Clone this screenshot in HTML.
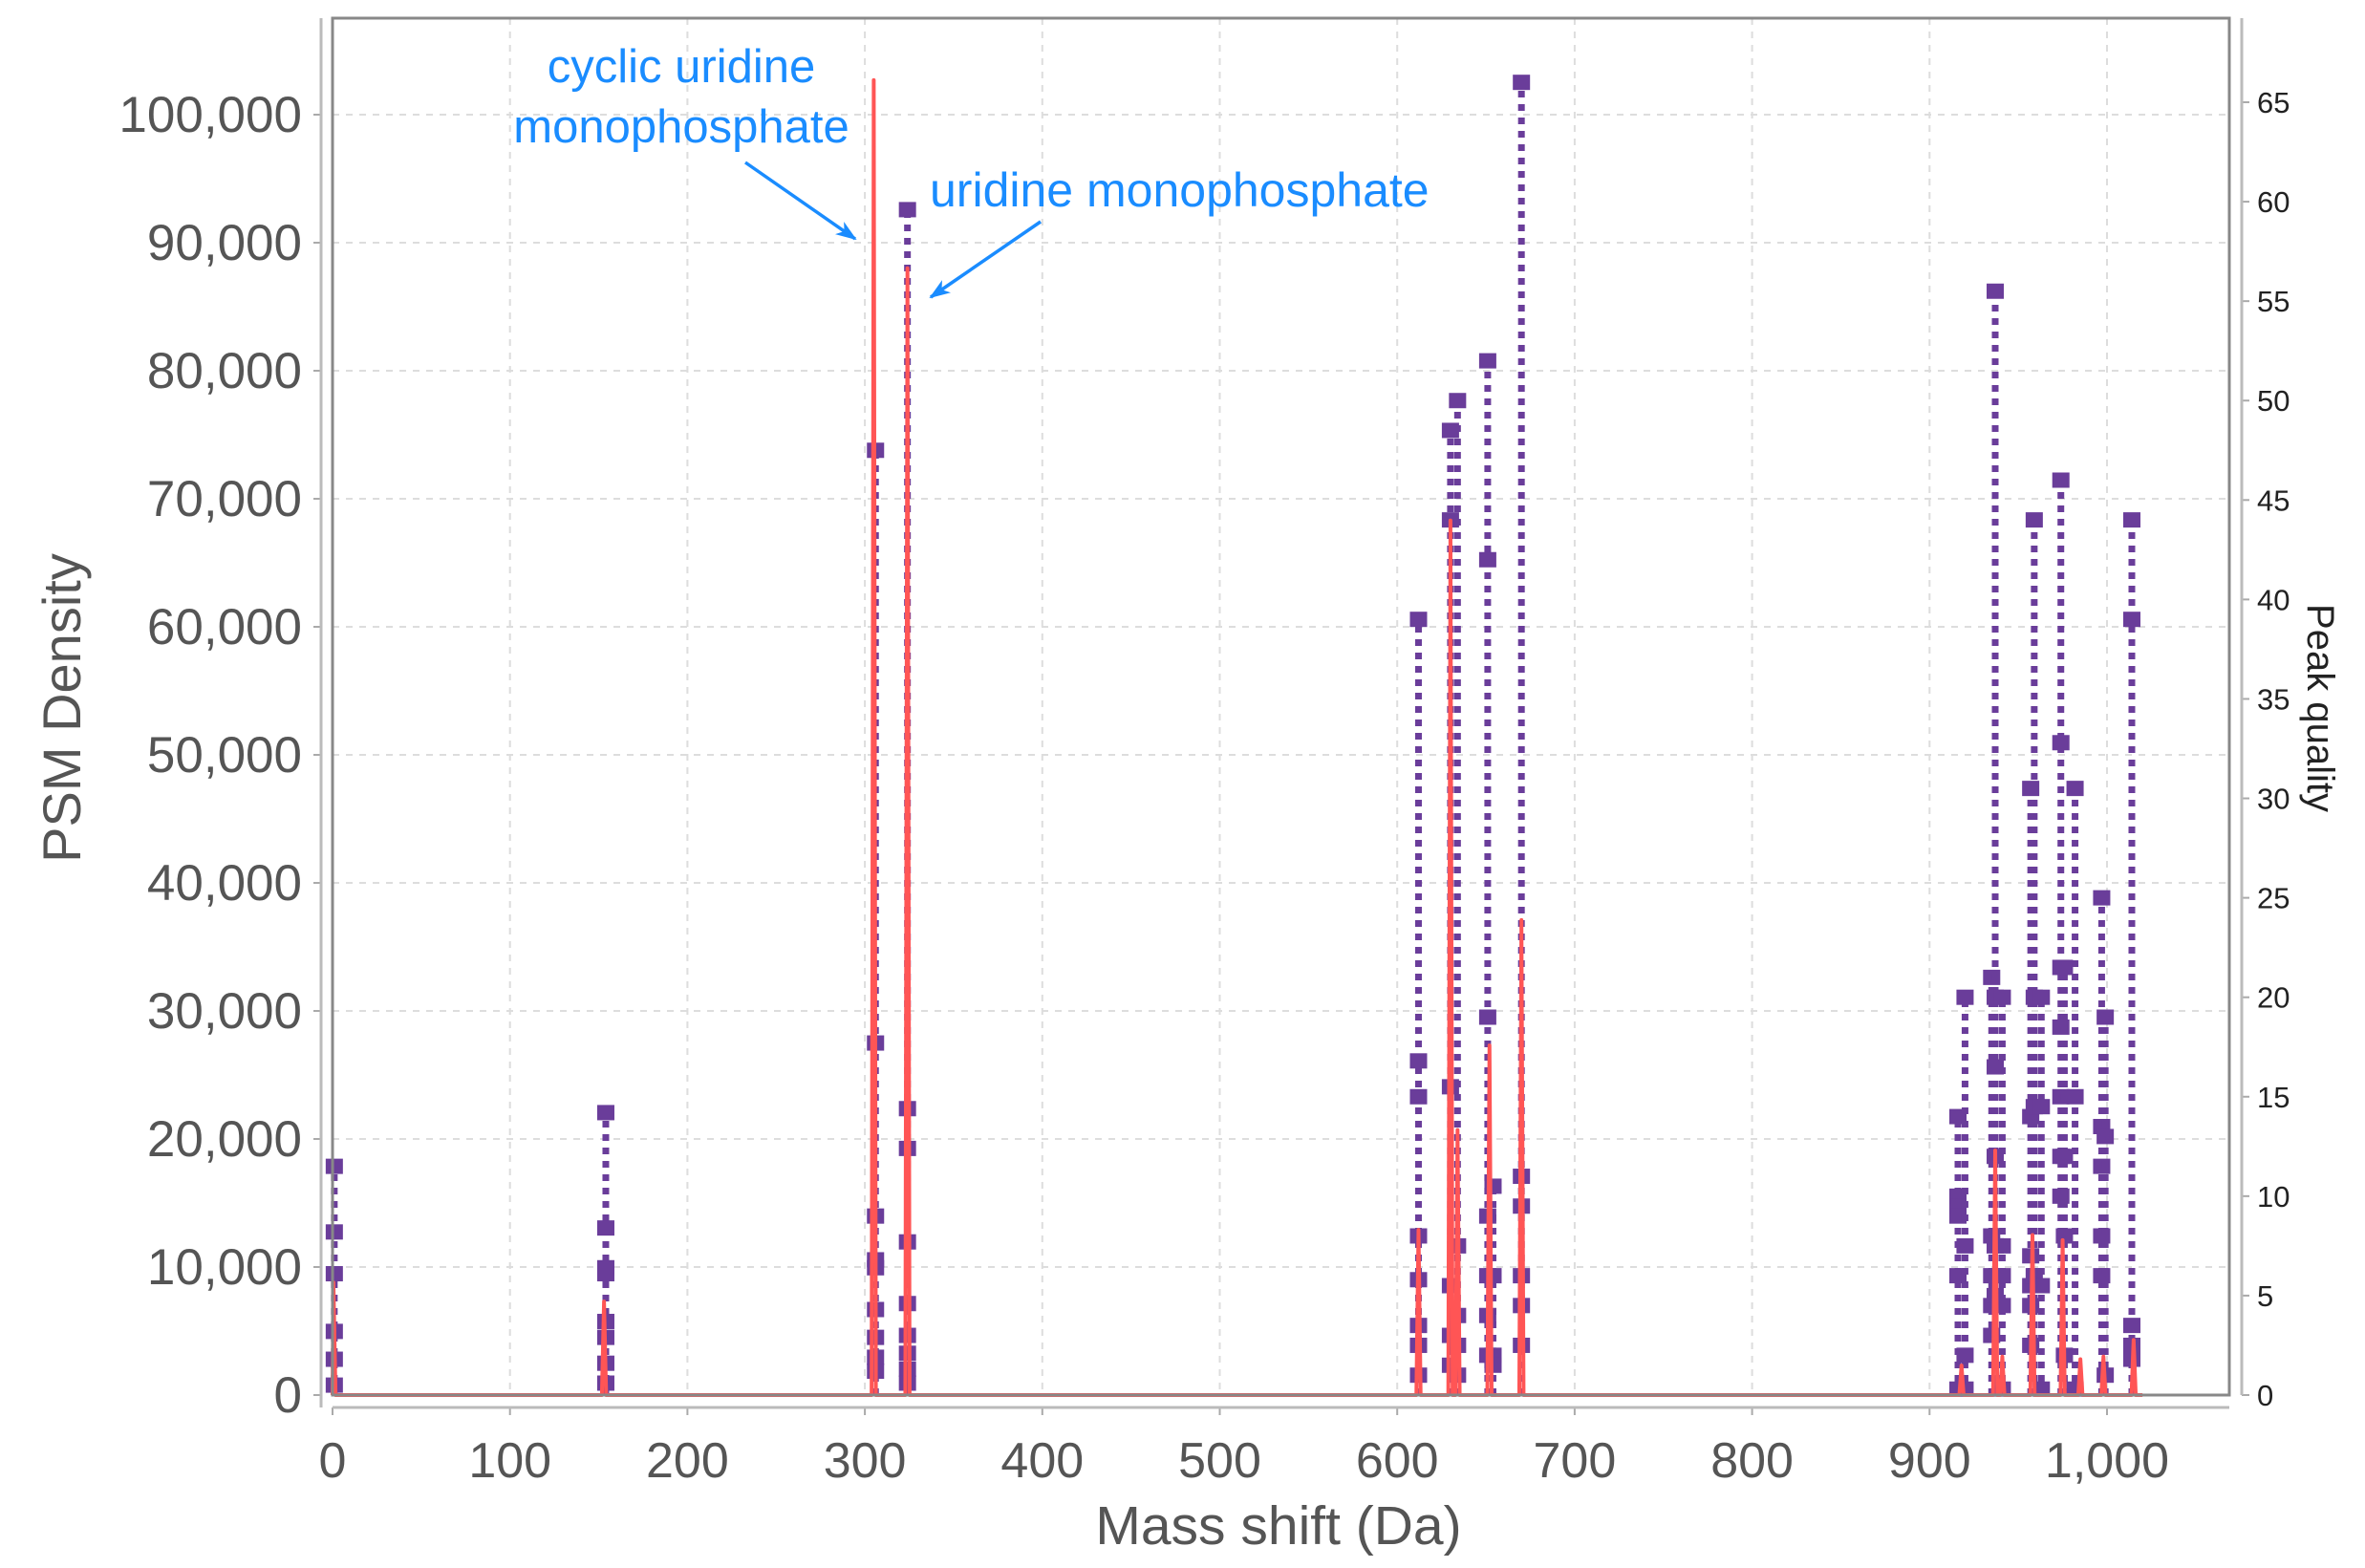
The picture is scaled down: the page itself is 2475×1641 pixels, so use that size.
<!DOCTYPE html>
<html><head><meta charset="utf-8"><style>
html,body{margin:0;padding:0;background:#fff;}
svg{display:block;font-family:"Liberation Sans",sans-serif;}
</style></head><body>
<svg id="chart" width="2475" height="1641" viewBox="0 0 2475 1641" xmlns="http://www.w3.org/2000/svg">
<defs><marker id="ah" markerWidth="22" markerHeight="16" refX="20" refY="8" orient="auto" markerUnits="userSpaceOnUse"><path d="M0,0 L22,8 L0,16 L6,8 z" fill="#1a8cff"/></marker></defs>
<g id="grid"></g>
<g id="series"></g>
<g id="axes"></g>
<text x="0" y="0" transform="translate(84,741) rotate(-90)" text-anchor="middle" font-size="56" fill="#555">PSM Density</text>
<text x="0" y="0" transform="translate(2415,741) rotate(90)" text-anchor="middle" font-size="40" fill="#222">Peak quality</text>
<text x="1338" y="1616" text-anchor="middle" font-size="57" fill="#555">Mass shift (Da)</text>
<g>
<text x="713" y="86" text-anchor="middle" font-size="49" fill="#1a8cff">cyclic uridine</text>
<text x="713" y="149" text-anchor="middle" font-size="49" fill="#1a8cff">monophosphate</text>
<line x1="780" y1="170" x2="895" y2="250" stroke="#1a8cff" stroke-width="3.5" marker-end="url(#ah)"/>
</g>
<g>
<text x="973" y="216" font-size="50" fill="#1a8cff">uridine monophosphate</text>
<line x1="1089" y1="232" x2="974" y2="311" stroke="#1a8cff" stroke-width="3.5" marker-end="url(#ah)"/>
</g>
</svg>
<script>
const xTicks=[0,100,200,300,400,500,600,700,800,900,1000];
const xTickLabels=["0","100","200","300","400","500","600","700","800","900","1,000"];
const yTicks=[0,10000,20000,30000,40000,50000,60000,70000,80000,90000,100000];
const yTickLabels=["0","10,000","20,000","30,000","40,000","50,000","60,000","70,000","80,000","90,000","100,000"];
const y2Ticks=[0,5,10,15,20,25,30,35,40,45,50,55,60,65];
const densityPeakMass=[0.5,153,305,324,612,630,634,652,670,918,937,941,958,975,985,998,1015];
const densityPeakValue=[8800,7300,102700,88000,12900,68300,20700,27300,37100,2300,19100,3000,12500,12100,2800,3000,4300];
const qualityMass=[1,154,306,324,612,630,634,651,654,670,916,920,935,937,941,957,959,963,974,976,982,997,999,1014];
const qualityValues=[
[11.5,8.2,6.1,3.2,1.8,0.5],
[14.2,8.4,6.4,6.1,3.7,2.9,1.6,0.6],
[47.5,17.7,9,6.8,6.4,4.3,2.9,1.9,1.2],
[59.6,14.4,12.4,7.7,4.6,3,2.1,1.3,0.6],
[39,16.8,15,8,5.8,3.5,2.5,1],
[48.5,44,15.5,5.5,3,1.5],
[50,7.5,4,2.5,1],
[52,42,19,9,6,4,2],
[10.5,6,2,1.5],
[66,11,9.5,6,4.5,2.5],
[14,10,9.5,9,6,0.3],
[20,7.5,2,0.3],
[21,8,6,4.5,3],
[55.5,20,16.5,12,7.5,5],
[20,7.5,6,4.5,0.3],
[30.5,14,7,5.5,4.5,2.5],
[44,20,14.5,6],
[20,14.5,5.5,0.3],
[46,32.8,21.5,18.5,15,12,10],
[21.5,12,8,2],
[30.5,15,0.3],
[25,13.5,11.5,8,6],
[19,13,1],
[44,39,3.5,2.5,1.8]
];
const L=348,R=2333,T=19,B=1460;
const X=v=>348+v*(2205-348)/1000;
const Y=v=>1460-v*(1460-120)/100000;
const Y2=v=>1460-v*(1460-107)/65;
const NS="http://www.w3.org/2000/svg";
function mk(parent,tag,attrs){const e=document.createElementNS(NS,tag);for(const k in attrs)e.setAttribute(k,attrs[k]);parent.appendChild(e);return e;}
const grid=document.getElementById('grid'),axes=document.getElementById('axes'),series=document.getElementById('series');
mk(grid,'rect',{x:L,y:T,width:R-L,height:B-T,fill:'#fff'});
xTicks.forEach((t,i)=>{
 const g=mk(grid,'line',{x1:X(t),x2:X(t),y1:T,y2:B,stroke:'#ddd','stroke-width':2,'stroke-dasharray':'7,7'});
 
 
 const tk=mk(axes,'line',{x1:X(t),x2:X(t),y1:1473,y2:1481,stroke:'#aaa','stroke-width':2});
 
 
 const tx=mk(axes,'text',{x:X(t),y:1546,'text-anchor':'middle','font-size':52,fill:'#555'});
 tx.textContent=xTickLabels[i];
 
 
});
yTicks.forEach((t,i)=>{
 const g=mk(grid,'line',{x1:L,x2:R,y1:Y(t),y2:Y(t),stroke:'#ddd','stroke-width':2,'stroke-dasharray':'7,7'});
 
 
 const tk=mk(axes,'line',{x1:328,x2:336,y1:Y(t),y2:Y(t),stroke:'#aaa','stroke-width':2});
 
 
 const tx=mk(axes,'text',{x:316,y:Y(t)+18,'text-anchor':'end','font-size':53,fill:'#555'});
 tx.textContent=yTickLabels[i];
 
 
});
y2Ticks.forEach(t=>{
 const tk=mk(axes,'line',{x1:2346,x2:2354,y1:Y2(t),y2:Y2(t),stroke:'#aaa','stroke-width':2});
 
 
 const tx=mk(axes,'text',{x:2362,y:Y2(t)+11,'font-size':31,fill:'#222'});
 tx.textContent=String(t);
 
 
});
qualityMass.forEach((m,i)=>{
 const vals=qualityValues[i];const mx=Math.max(...vals);
 const st=mk(series,'line',{x1:X(m),x2:X(m),y1:Y2(0),y2:Y2(mx),stroke:'#6a3d9a','stroke-width':7,'stroke-dasharray':'7,7'});
 
 
 vals.forEach(v=>{
  const r=mk(series,'rect',{x:X(m)-9,y:Y2(v)-8,width:18,height:16,fill:'#6a3d9a'});
  
  
 });
});
let d='M'+X(0)+','+Y(0);
densityPeakMass.forEach((m,i)=>{
 d+=' L'+X(Math.max(0,m-1.2))+','+Y(0)+' L'+X(m)+','+Y(densityPeakValue[i])+' L'+X(m+1.2)+','+Y(0);
});
d+=' L'+X(1020)+','+Y(0);
const p=mk(series,'path',{d:d,fill:'none',stroke:'#ff5555','stroke-width':4,'stroke-linejoin':'round'});


const fr=mk(axes,'rect',{x:L,y:T,width:R-L,height:B-T,fill:'none',stroke:'#888','stroke-width':3});


const la=mk(axes,'line',{x1:336,x2:336,y1:T,y2:1473,stroke:'#bbb','stroke-width':3});


const ba=mk(axes,'line',{x1:348,x2:2333,y1:1473,y2:1473,stroke:'#bbb','stroke-width':3});


const ra=mk(axes,'line',{x1:2346,x2:2346,y1:T,y2:1460,stroke:'#bbb','stroke-width':3});


</script>
</body></html>
